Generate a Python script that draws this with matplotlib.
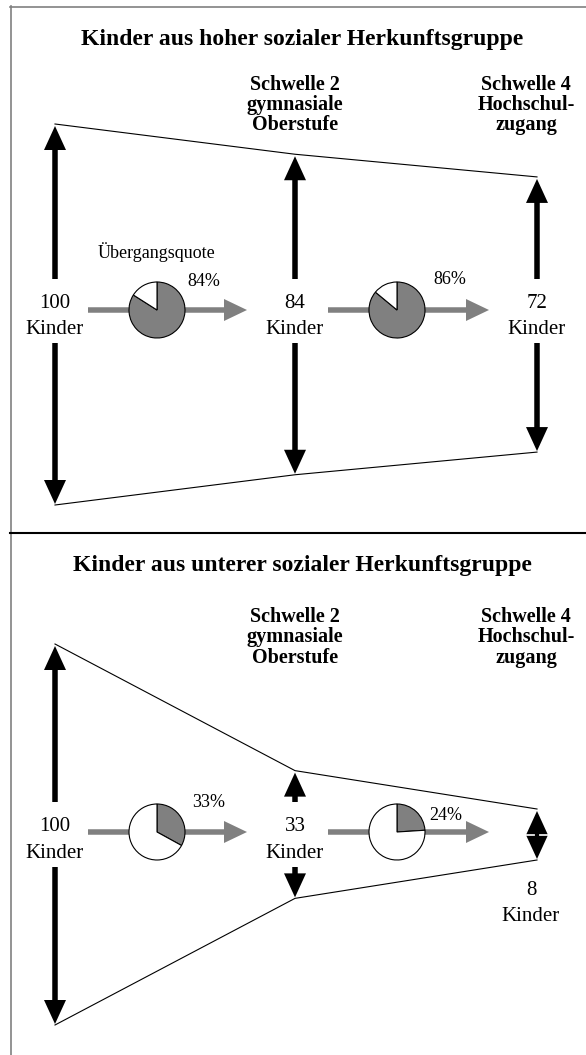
import matplotlib.pyplot as plt

plt.rcParams['font.family'] = ['Liberation Serif', 'DejaVu Serif']

# data
titles = ["Kinder aus hoher sozialer Herkunftsgruppe",
          "Kinder aus unterer sozialer Herkunftsgruppe"]
thresholds = [["Schwelle 2", "gymnasiale", "Oberstufe"],
              ["Schwelle 4", "Hochschul-", "zugang"]]
kinder_high = [100, 84, 72]
kinder_low = [100, 33, 8]
quote_high = [84, 86]
quote_low = [33, 24]

# layout (pixels, y downwards)
W, H = 586, 1055
col_x = [55, 295, 537]
thr_x = [295, 526]
px_per_kind = 1.89
panels = [
    dict(title_y=45.5, thr_y=89.5, mid=315, flow=310, num=308, kin=334.5,
         pct=[(47, -23.5), (53, -25.5)]),
    dict(title_y=570.5, thr_y=622, mid=835, flow=832, num=831, kin=858.5,
         pct=[(52, -25), (49, -12)]),
]
GRAY = '#808080'

fig = plt.figure(figsize=(W / 100, H / 100), dpi=100)
ax = fig.add_axes([0, 0, 1, 1])


def black_arrow(x, y0, y1):
    ax.arrow(x, y0, 0, y1 - y0, width=5.5, head_width=22, head_length=24,
             length_includes_head=True, color='black', lw=0, zorder=3)


def draw_panel(p, kinder, quote):
    ax.text(302, p['title_y'], titles[panels.index(p)], ha='center',
            va='baseline', fontsize=17, fontweight='bold')
    for tx, lines in zip(thr_x, thresholds):
        for i, line in enumerate(lines):
            ax.text(tx, p['thr_y'] + i * 20.3, line, ha='center',
                    va='baseline', fontsize=14.5, fontweight='bold')

    halves = [max(k * px_per_kind, 24) for k in kinder]
    # funnel outline
    ax.plot(col_x, [p['mid'] - h - 2 for h in halves], color='black', lw=0.8)
    ax.plot(col_x, [p['mid'] + h + 1 for h in halves], color='black', lw=0.8)

    gap_top = p['num'] - 29
    gap_bot = p['kin'] + 8.5
    for x, k, h in zip(col_x, kinder, halves):
        if p['mid'] - h < gap_top - 10:
            black_arrow(x, gap_top, p['mid'] - h)
            black_arrow(x, gap_bot, p['mid'] + h)
            ax.text(x, p['num'], str(k), ha='center', va='baseline', fontsize=15)
            ax.text(x, p['kin'], "Kinder", ha='center', va='baseline', fontsize=15)
        else:
            # too few children: only the two arrow heads
            black_arrow(x, p['mid'], p['mid'] - h)
            black_arrow(x, p['mid'], p['mid'] + h)
            ax.plot([x - 11, x + 11], [p['mid'], p['mid']], color='white',
                    lw=1.2, zorder=4)
            ax.plot([x, x], [p['mid'] - 4, p['mid'] + 4], color='black',
                    lw=3, zorder=5)
            ax.text(x - 6, p['mid'] + 60, str(k), ha='center', va='baseline',
                    fontsize=15)
            ax.text(x - 6, p['mid'] + 86, "Kinder", ha='center',
                    va='baseline', fontsize=15)

    for i, q in enumerate(quote):
        x0 = col_x[i] + 33
        x1 = col_x[i + 1] - 48
        ax.arrow(x0, p['flow'], x1 - x0, 0, width=5.5, head_width=22,
                 head_length=23, length_includes_head=True, color=GRAY,
                 lw=0, zorder=2)
        cx = x0 + 69
        ax.pie([q, 100 - q], colors=[GRAY, 'white'], startangle=270,
               counterclock=True, center=(cx, p['flow']), radius=28,
               frame=True,
               wedgeprops=dict(edgecolor='black', linewidth=0.8, zorder=3))
        dx, dy = p['pct'][i]
        ax.text(cx + dx, p['flow'] + dy, f"{q}%", ha='center',
                va='baseline', fontsize=13, zorder=6)


draw_panel(panels[0], kinder_high, quote_high)
ax.text(157, 258.5, "Übergangsquote", ha='center', va='baseline', fontsize=13)
draw_panel(panels[1], kinder_low, quote_low)

# frame lines
ax.plot([10, W], [6.5, 6.5], color=GRAY, lw=1.2)
ax.plot([10.5, 10.5], [6, H], color=GRAY, lw=1.2)
ax.plot([10, W], [533, 533], color='black', lw=1.5)

ax.set_xlim(0, W)
ax.set_ylim(H, 0)
ax.set_aspect('equal')
ax.axis('off')

fig.savefig('out.png', dpi=100)
